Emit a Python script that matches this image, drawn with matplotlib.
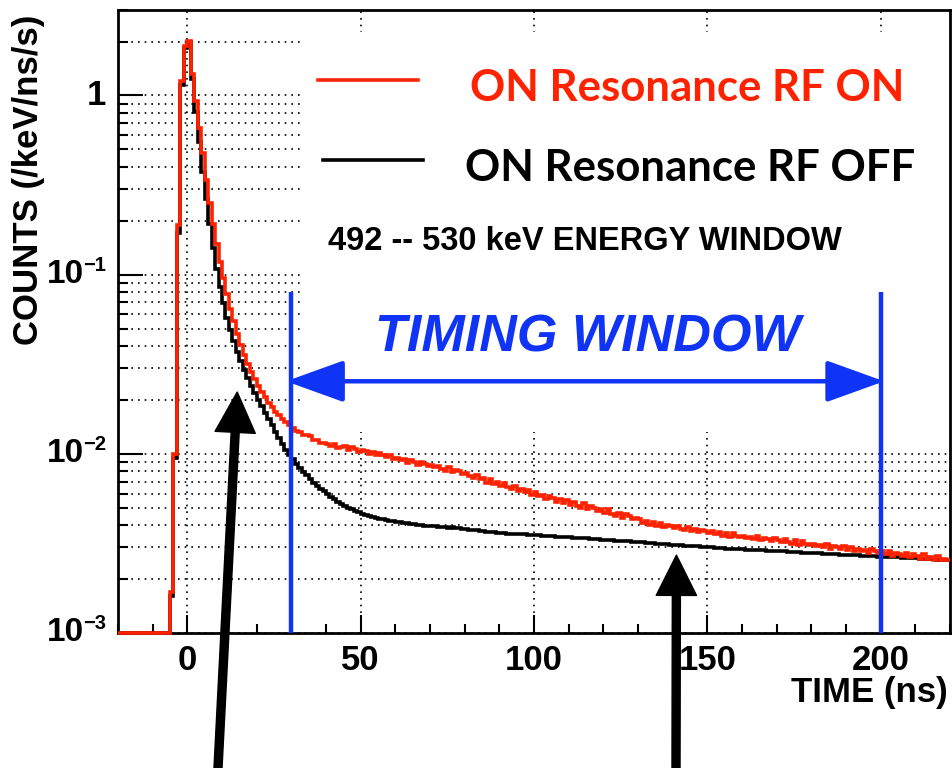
import numpy as np
import matplotlib
matplotlib.use("Agg")
import matplotlib.pyplot as plt
from matplotlib.ticker import MultipleLocator, LogLocator, NullFormatter
from matplotlib.patches import Rectangle

plt.rcParams['font.family'] = ['Liberation Sans', 'DejaVu Sans']
plt.rcParams['font.weight'] = 'bold'

# 1 ns bins from -20 to 220 ns, counts in units of 1e-3 /keV/ns/s
bin_edges = np.arange(-20, 221, 1)

rf_off = [
    1.0, 1.0, 1.0, 1.0, 1.0, 1.0, 1.0, 1.0, 1.0, 1.0,
    1.0, 1.0, 1.0, 1.0, 1.0, 1.6, 9.5, 170, 1150, 1850,
    2000, 1230, 813, 550, 372, 263, 191, 141, 107, 85.1,
    69.2, 57.5, 49.0, 42.7, 37.2, 33.1, 29.5, 26.6, 24.0, 21.9,
    20.0, 18.4, 17.0, 15.7, 14.5, 13.3, 12.3, 11.4, 10.5, 9.9,
    9.3, 8.8, 8.3, 7.9, 7.6, 7.25, 6.9, 6.6, 6.38, 6.17,
    5.96, 5.75, 5.56, 5.41, 5.26, 5.13, 5.01, 4.90, 4.81, 4.72,
    4.63, 4.57, 4.49, 4.45, 4.38, 4.34, 4.31, 4.25, 4.22, 4.20,
    4.16, 4.14, 4.10, 4.09, 4.05, 4.04, 4.03, 3.99, 3.98, 3.97,
    3.94, 3.95, 3.91, 3.90, 3.90, 3.87, 3.88, 3.85, 3.86, 3.82,
    3.80, 3.78, 3.77, 3.74, 3.73, 3.71, 3.68, 3.67, 3.65, 3.63,
    3.62, 3.62, 3.59, 3.58, 3.58, 3.56, 3.55, 3.55, 3.52, 3.52,
    3.51, 3.51, 3.49, 3.48, 3.48, 3.46, 3.45, 3.45, 3.43, 3.42,
    3.42, 3.40, 3.39, 3.39, 3.37, 3.37, 3.35, 3.34, 3.34, 3.32,
    3.31, 3.31, 3.29, 3.28, 3.28, 3.26, 3.25, 3.25, 3.23, 3.22,
    3.20, 3.20, 3.18, 3.17, 3.17, 3.15, 3.14, 3.14, 3.12, 3.11,
    3.10, 3.10, 3.08, 3.07, 3.07, 3.06, 3.05, 3.05, 3.03, 3.02,
    3.01, 3.01, 2.99, 2.98, 2.98, 2.96, 2.96, 2.95, 2.94, 2.94,
    2.93, 2.92, 2.91, 2.91, 2.90, 2.89, 2.89, 2.88, 2.87, 2.87,
    2.86, 2.85, 2.85, 2.84, 2.83, 2.83, 2.82, 2.81, 2.81, 2.80,
    2.79, 2.79, 2.78, 2.77, 2.77, 2.76, 2.75, 2.75, 2.74, 2.73,
    2.73, 2.72, 2.71, 2.71, 2.70, 2.70, 2.69, 2.68, 2.68, 2.67,
    2.67, 2.66, 2.65, 2.65, 2.64, 2.64, 2.63, 2.62, 2.62, 2.61,
    2.61, 2.60, 2.60, 2.59, 2.58, 2.58, 2.57, 2.57, 2.56, 2.56,
]

rf_on = [
    1.0, 1.0, 1.0, 1.0, 1.0, 1.0, 1.0, 1.0, 1.0, 1.0,
    1.0, 1.0, 1.0, 1.0, 1.0, 1.7, 10.0, 190, 1200, 1900,
    2020, 1320, 933, 661, 479, 339, 251, 191, 148, 117,
    95.5, 77.6, 64.6, 55.0, 46.8, 40.7, 35.5, 31.6, 28.5, 26.0,
    24.0, 22.1, 20.7, 19.3, 18.2, 17.2, 16.4, 15.7, 15.0, 14.5,
    14.0, 13.4, 13.3, 12.8, 12.7, 12.5, 11.9, 11.9, 11.5, 11.5,
    11.3, 11.0, 11.4, 10.8, 10.9, 11.1, 10.5, 10.9, 10.6, 10.3,
    10.5, 10.4, 10.0, 10.3, 9.8, 10.1, 9.9, 9.6, 9.8, 9.4,
    9.5, 9.2, 9.4, 8.9, 9.2, 9.0, 8.7, 9.0, 8.8, 8.5,
    8.7, 8.4, 8.6, 8.2, 8.0, 8.4, 7.9, 8.1, 8.0, 7.7,
    7.8, 7.5, 7.3, 7.6, 7.2, 7.3, 6.9, 7.2, 6.8, 7.0,
    6.6, 6.9, 6.5, 6.4, 6.6, 6.2, 6.4, 6.1, 6.3, 5.9,
    6.1, 5.8, 5.9, 5.6, 5.8, 5.7, 5.4, 5.6, 5.3, 5.5,
    5.2, 5.4, 5.1, 5.0, 5.3, 4.9, 5.1, 5.0, 4.8, 4.9,
    4.7, 4.9, 4.6, 4.5, 4.7, 4.4, 4.6, 4.5, 4.3, 4.4,
    4.3, 4.1, 4.2, 4.0, 4.15, 3.95, 4.1, 3.9, 4.0, 3.95,
    3.85, 3.95, 3.8, 3.75, 3.9, 3.7, 3.8, 3.65, 3.75, 3.7,
    3.6, 3.7, 3.55, 3.65, 3.5, 3.6, 3.45, 3.6, 3.5, 3.45,
    3.5, 3.4, 3.45, 3.35, 3.5, 3.3, 3.4, 3.35, 3.25, 3.4,
    3.3, 3.2, 3.35, 3.2, 3.15, 3.3, 3.1, 3.25, 3.15, 3.1,
    3.15, 3.05, 3.1, 3.0, 3.15, 2.95, 3.05, 3.0, 2.95, 3.05,
    2.9, 3.0, 2.85, 2.95, 2.85, 2.9, 2.8, 2.95, 2.85, 2.8,
    2.85, 2.75, 2.85, 2.7, 2.8, 2.75, 2.7, 2.8, 2.65, 2.75,
    2.7, 2.6, 2.75, 2.6, 2.65, 2.55, 2.7, 2.55, 2.6, 2.55,
]

y_ticks = [1e-3, 1e-2, 1e-1, 1]
y_exponents = ['\u22123', '\u22122', '\u22121', None]
x_ticks = [0, 50, 100, 150, 200]

window_start, window_end = 30, 200

red = '#ff2200'
blue = '#1034f5'

fig = plt.figure(figsize=(9.53, 7.68), dpi=100)
ax = fig.add_axes([0.1238, 0.1758, 0.8730, 0.8112])
ax.set_axisbelow(True)

scale = 1e-3
ax.stairs(np.array(rf_off) * scale, bin_edges, baseline=None, color='black', lw=2.6,
          clip_on=False, zorder=3)
ax.stairs(np.array(rf_on) * scale, bin_edges, baseline=None, color=red, lw=2.6,
          clip_on=False, zorder=4)

ax.set_yscale('log')
ax.set_xlim(-20, 220)
ax.set_ylim(1e-3, 3.0)

ax.set_xticks(x_ticks)
ax.xaxis.set_minor_locator(MultipleLocator(10))
ax.set_yticks(y_ticks, [''] * len(y_ticks))
ax.yaxis.set_minor_locator(LogLocator(base=10, subs=np.arange(2, 10)))
ax.yaxis.set_minor_formatter(NullFormatter())

ax.tick_params(axis='both', which='both', direction='in', width=1.5)
ax.tick_params(axis='x', labelsize=25)
ax.tick_params(axis='y', which='major', length=18)
ax.tick_params(axis='y', which='minor', length=7)
ax.tick_params(axis='x', which='major', length=13, pad=8)
ax.tick_params(axis='x', which='minor', length=6.5)

# ROOT-style y labels: big "10" with a small exponent
for v, exp in zip(y_ticks, y_exponents):
    if exp is None:
        ax.annotate('1', xy=(0, v), xycoords=('axes fraction', 'data'), xytext=(-12, 0),
                    textcoords='offset pixels', ha='right', va='center', fontsize=25,
                    fontweight='bold', annotation_clip=False)
    else:
        ax.annotate('10', xy=(0, v), xycoords=('axes fraction', 'data'), xytext=(-34, 0),
                    textcoords='offset pixels', ha='right', va='center', fontsize=24,
                    fontweight='bold', annotation_clip=False)
        ax.annotate(exp, xy=(0, v), xycoords=('axes fraction', 'data'), xytext=(-12, 9),
                    textcoords='offset pixels', ha='right', va='center', fontsize=14.5,
                    fontweight='bold', annotation_clip=False)

ax.grid(which='major', axis='x', color='black', linestyle=(0, (1, 3)), lw=1.2)
ax.grid(which='both', axis='y', color='black', linestyle=(0, (1, 3)), lw=1.2)

for s in ax.spines.values():
    s.set_linewidth(2)

# white boxes behind legend and energy window text
ax.add_patch(Rectangle((0.219, 0.3226), 0.781, 0.642, transform=ax.transAxes,
                       facecolor='white', edgecolor='none', zorder=1))
ax.add_patch(Rectangle((0.222, 0.567), 0.69, 0.12, transform=ax.transAxes,
                       facecolor='white', edgecolor='none', zorder=1))

# legend drawn by hand
ax.plot([0.240, 0.361], [0.888, 0.888], color=red, lw=2.6, transform=ax.transAxes, zorder=5)
ax.plot([0.246, 0.367], [0.759, 0.759], color='black', lw=2.6, transform=ax.transAxes, zorder=5)
ax.text(0.423, 0.875, 'ON Resonance RF ON', color=red, fontsize=31.5, family='Lato',
        fontweight='bold', ha='left', va='center', transform=ax.transAxes, zorder=5)
ax.text(0.417, 0.746, 'ON Resonance RF OFF', color='black', fontsize=31.5, family='Lato',
        fontweight='bold', ha='left', va='center', transform=ax.transAxes, zorder=5)
ax.text(0.561, 0.6276, '492 -- 530 keV ENERGY WINDOW', fontsize=23.5, fontweight='bold',
        ha='center', va='center', transform=ax.transAxes, zorder=5)

# timing window
ax.plot([window_start, window_start], [1e-3, 0.08], color=blue, lw=3.2, solid_capstyle='butt', zorder=5)
ax.plot([window_end, window_end], [1e-3, 0.08], color=blue, lw=3.2, solid_capstyle='butt', zorder=5)
ax.annotate('', xy=(window_start - 1.5, 0.0254), xytext=(window_end + 1, 0.0254),
            arrowprops=dict(arrowstyle='<|-|>,head_length=3.6,head_width=1.3',
                            mutation_scale=10, color=blue, lw=3.2, shrinkA=0, shrinkB=0),
            zorder=5)
ax.text(115.4, 0.0442, 'TIMING WINDOW', color=blue, fontsize=37.5, fontweight='bold',
        fontstyle='italic', ha='center', va='center', zorder=5)

# black arrows from below the frame
arrow_style = dict(facecolor='black', edgecolor='black', width=5.8, headwidth=29,
                   headlength=29, shrink=0)
ax.annotate('', xy=(14.4, 0.0221), xycoords='data', xytext=(218, 0),
            textcoords='figure pixels', arrowprops=arrow_style, annotation_clip=False, zorder=6)
ax.annotate('', xy=(141.1, 0.00272), xycoords='data', xytext=(676, 0),
            textcoords='figure pixels', arrowprops=arrow_style, annotation_clip=False, zorder=6)

fig.text(0.995, 0.0977, 'TIME (ns)', fontsize=25, fontweight='bold', ha='right', va='center')
fig.text(0.030, 0.9805, 'COUNTS (/keV/ns/s)', fontsize=25, fontweight='bold', rotation=90,
         ha='center', va='top')

fig.savefig('out.png', dpi=100)
